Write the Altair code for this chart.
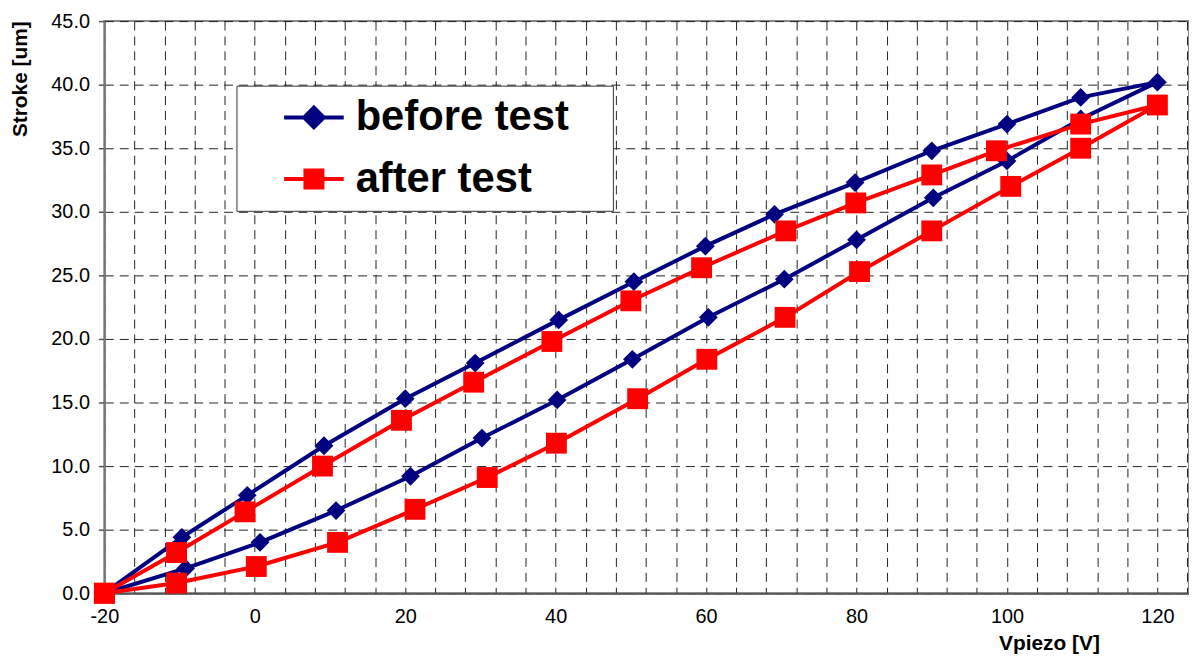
import altair as alt
import pandas as pd

# ---- data ----
series_names = ["before test", "after test"]
series_colors = ["#000080", "#ff0000"]

# "before test" loop: rising branch then falling branch
before_x = [-20, -9.2, 0.7, 10.8, 20.7, 30.2, 40.2, 50.2, 60.3, 70.4, 80.0, 90.2, 100.0, 109.8, 120,
            109.8, 100.0, 90.0, 79.8, 69.1, 59.9, 50.4, 40.4, 29.3, 20.0, 9.2, -1.0, -9.7, -20]
before_y = [0.0, 1.95, 4.0, 6.5, 9.2, 12.2, 15.2, 18.4, 21.7, 24.7, 27.8, 31.1, 34.0, 37.3, 40.2,
            39.0, 36.9, 34.8, 32.3, 29.8, 27.3, 24.5, 21.5, 18.1, 15.3, 11.6, 7.7, 4.4, 0.0]

# "after test" loop
after_x = [-20, -10.4, 0.2, 11.0, 21.3, 30.9, 40.1, 50.9, 60.1, 70.5, 80.4, 90.0, 100.5, 109.8, 120,
           109.8, 98.6, 90.0, 79.9, 70.6, 59.4, 50.0, 39.5, 29.1, 19.5, 9.0, -1.3, -10.4, -20]
after_y = [0.0, 0.8, 2.1, 4.0, 6.6, 9.1, 11.8, 15.3, 18.4, 21.7, 25.3, 28.5, 32.0, 35.0, 38.4,
           36.9, 34.8, 32.9, 30.7, 28.5, 25.6, 23.0, 19.8, 16.6, 13.6, 10.0, 6.4, 3.2, 0.0]

x_ticks = [-20, -16, -12, -8, -4, 0, 4, 8, 12, 16, 20, 24, 28, 32, 36, 40, 44, 48, 52, 56, 60,
           64, 68, 72, 76, 80, 84, 88, 92, 96, 100, 104, 108, 112, 116, 120, 124]
y_ticks = [0, 5, 10, 15, 20, 25, 30, 35, 40, 45]

# ---- table ----
rows = []
for name, xs, ys in ((series_names[0], before_x, before_y), (series_names[1], after_x, after_y)):
    for i, (xv, yv) in enumerate(zip(xs, ys)):
        rows.append({"series": name, "idx": i, "x": xv, "y": yv})
df = pd.DataFrame(rows)

FONT = "Liberation Sans"

# plotted markers (unit paths, scaled by size)
marker_paths = ["M0,-0.9L0.9,0L0,0.9L-0.9,0Z", "M-1,-1L1,-1L1,1L-1,1Z"]
# legend symbols: a line segment with the marker on it
legend_paths = ["M-1.58,0L1.58,0M0,-0.52L0.52,0L0,0.52L-0.52,0Z",
                "M-1.58,0L1.58,0M-0.45,-0.45L0.45,-0.45L0.45,0.45L-0.45,0.45Z"]

x_enc = alt.X(
    "x:Q",
    scale=alt.Scale(domain=[-20, 124.2], nice=False, zero=False),
    axis=alt.Axis(
        values=x_ticks,
        labelExpr="datum.value % 20 == 0 ? '' + datum.value : ''",
        labelFlush=False,
        title="Vpiezo [V]",
        titleX=951, titleY=57, titleAlign="center", titleBaseline="alphabetic",
        grid=True, gridDash=[9, 6], gridColor="#222", gridWidth=1,
        ticks=False, tickSize=0, labelPadding=13,
        domainColor="#555", domainWidth=2,
    ),
)
y_enc = alt.Y(
    "y:Q",
    scale=alt.Scale(domain=[0, 45], nice=False, zero=False),
    axis=alt.Axis(
        values=y_ticks, format=".1f",
        title="Stroke [um]",
        titleX=-78, titleY=58, titleAngle=270, titleAlign="center", titleBaseline="alphabetic",
        grid=True, gridDash=[9, 6], gridColor="#222", gridWidth=1,
        ticks=True, tickSize=6, tickColor="#555", tickWidth=1.5, labelPadding=9,
        domainColor="#777", domainWidth=2,
    ),
)

color_scale = alt.Scale(domain=series_names, range=series_colors)

lines = alt.Chart(df).mark_line(strokeWidth=4, strokeJoin="round").encode(
    x=x_enc, y=y_enc,
    color=alt.Color("series:N", scale=color_scale, legend=None),
    detail="series:N",
    order="idx:Q",
)

marker_layers = []
for name, path in zip(series_names, marker_paths):
    marker_layers.append(
        alt.Chart(df).transform_filter(alt.datum.series == name)
        .mark_point(shape=path, filled=True, opacity=1, strokeWidth=0, size=441)
        .encode(x=x_enc, y=y_enc, color=alt.Color("series:N", scale=color_scale, legend=None))
    )

legend_def = alt.Legend(
    title=".", titleOrient="right", titleOpacity=0, titleFontSize=10, titlePadding=30,
    orient="none", legendX=133, legendY=65,
    fillColor="white", strokeColor="#333", padding=11,
    symbolSize=1444, symbolStrokeWidth=4, symbolOpacity=1, symbolOffset=46,
    labelFont=FONT, labelFontSize=42, labelFontWeight="bold", labelColor="black",
    labelLimit=700, labelOffset=21, rowPadding=20,
)

# legend-only layer (its tiny points sit under the plotted markers)
legend_layer = alt.Chart(df).mark_point(filled=True, opacity=1, size=1, strokeWidth=0).encode(
    x=x_enc, y=y_enc,
    fill=alt.Fill("series:N", scale=alt.Scale(domain=series_names, range=series_colors), legend=legend_def),
    stroke=alt.Stroke("series:N", scale=alt.Scale(domain=series_names, range=series_colors), legend=legend_def),
    shape=alt.Shape("series:N", scale=alt.Scale(domain=series_names, range=legend_paths), legend=legend_def),
)

chart = alt.layer(legend_layer, lines, *marker_layers).properties(
    width=1092, height=576,
    background="white",
    autosize=alt.AutoSizeParams(type="none"),
    padding={"left": 97, "top": 11, "right": 0, "bottom": 60},
).configure_view(
    stroke="#888", strokeWidth=2
).configure_axis(
    labelFont=FONT, labelFontSize=20, labelColor="black",
    titleFont=FONT, titleFontSize=21, titleFontWeight="bold", titleColor="black",
)

chart.save("out.html", embed_options={"renderer": "svg", "actions": False})
